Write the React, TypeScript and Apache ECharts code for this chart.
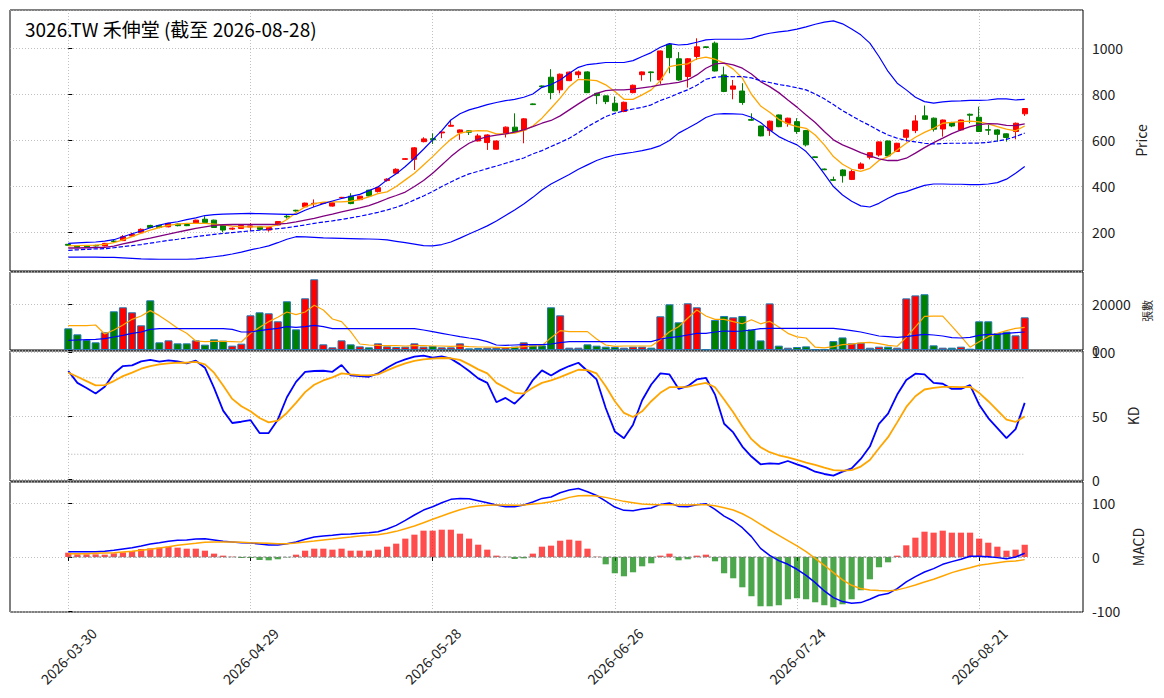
import React, { useEffect, useRef } from 'react';
import * as echarts from 'echarts';

const FONT = '"Noto Sans CJK TC", "Noto Sans", sans-serif';

// Taiwan exchange closed on these weekdays in the period
const holidays = ['2026-04-03', '2026-04-06', '2026-05-01', '2026-06-19'];

const buildTradingDays = (start: string, count: number) => {
    const out: string[] = [];
    const d = new Date(start + 'T00:00:00Z');
    while (out.length < count) {
        const wd = d.getUTCDay();
        const s = d.toISOString().slice(0, 10);
        if (wd !== 0 && wd !== 6 && !holidays.includes(s)) out.push(s);
        d.setUTCDate(d.getUTCDate() + 1);
    }
    return out;
};

const dates = buildTradingDays('2026-03-30', 106);
const dateTicks = [0, 20, 40, 60, 80, 100];

const opens = [
    148, 141, 141, 143, 141, 162, 164, 184, 198, 230,
    230, 224, 236, 234, 239, 257, 253, 230, 214, 217,
    223, 224, 210, 232, 270, 296, 311, 324, 326, 314,
    350, 357, 342, 383, 377, 425, 457, 517, 517, 594,
    607, 632, 661, 633, 641, 597, 590, 561, 630, 657,
    645, 758, 836, 874, 819, 859, 885, 897, 804, 793,
    761, 725, 807, 885, 897, 862, 1017, 954, 877, 964,
    1006, 1022, 884, 822, 814, 690, 662, 642, 710, 674,
    681, 642, 528, 475, 429, 471, 430, 477, 526, 536,
    597, 551, 613, 642, 706, 696, 649, 677, 645, 713,
    700, 646, 645, 628, 638, 715,
];
const closes = [
    144, 135, 137, 141, 152, 160, 181, 191, 213, 221,
    221, 239, 229, 229, 253, 243, 221, 210, 218, 230,
    228, 213, 221, 247, 267, 293, 327, 326, 328, 328,
    352, 325, 357, 358, 394, 431, 474, 520, 567, 606,
    602, 636, 665, 645, 635, 619, 623, 597, 657, 638,
    693, 755, 833, 807, 887, 896, 897, 807, 794, 768,
    728, 765, 839, 897, 894, 988, 959, 862, 954, 1006,
    1003, 901, 812, 836, 764, 687, 619, 683, 659, 696,
    638, 580, 525, 472, 426, 446, 464, 497, 546, 593,
    532, 587, 645, 684, 691, 648, 688, 662, 688, 709,
    638, 644, 626, 612, 674, 738,
];
const lows = [
    141, 132, 134, 138, 139, 155, 162, 182, 196, 218,
    218, 222, 226, 227, 237, 241, 219, 200, 210, 215,
    206, 211, 203, 230, 260, 290, 309, 310, 324, 312,
    348, 322, 340, 356, 373, 420, 455, 515, 471, 591,
    584, 609, 659, 602, 623, 595, 558, 559, 612, 636,
    587, 753, 831, 778, 804, 857, 870, 805, 757, 757,
    726, 722, 804, 859, 855, 845, 891, 859, 829, 949,
    1001, 899, 809, 778, 754, 684, 617, 619, 657, 659,
    628, 573, 523, 470, 423, 416, 427, 474, 517, 529,
    530, 549, 594, 631, 688, 638, 616, 657, 642, 674,
    636, 623, 594, 594, 604, 706,
];
const highs = [
    151, 143, 143, 146, 154, 168, 188, 199, 217, 233,
    232, 241, 238, 236, 255, 270, 255, 232, 221, 232,
    240, 226, 223, 249, 275, 298, 329, 343, 330, 330,
    354, 370, 359, 385, 399, 435, 478, 523, 570, 613,
    630, 639, 688, 647, 643, 628, 626, 599, 660, 717,
    696, 760, 838, 909, 890, 899, 903, 900, 806, 795,
    790, 768, 842, 899, 899, 990, 1020, 983, 957, 1043,
    1008, 1029, 920, 862, 848, 717, 664, 686, 712, 698,
    696, 645, 530, 477, 442, 474, 474, 504, 548, 595,
    599, 589, 648, 709, 751, 699, 690, 680, 690, 716,
    746, 667, 648, 630, 677, 740,
];

const ma5 = [
    141, 142, 143, 144, 148, 155, 167, 181, 196, 210,
    221, 230, 236, 239, 239, 239, 236, 232, 227, 224,
    224, 224, 224, 232, 256, 285, 311, 325, 331, 332,
    332, 335, 342, 354, 368, 376, 399, 428, 457, 493,
    529, 568, 604, 631, 639, 642, 641, 628, 628, 631,
    642, 662, 696, 739, 783, 833, 865, 862, 859, 841,
    812, 778, 778, 797, 819, 859, 920, 928, 932, 954,
    961, 952, 935, 909, 870, 800, 749, 722, 691, 671,
    659, 652, 623, 580, 529, 496, 474, 465, 478, 512,
    529, 558, 587, 613, 634, 652, 674, 678, 681, 683,
    680, 671, 659, 648, 641, 662,
];
const ma10 = [
    132, 132, 133, 134, 135, 140, 150, 158, 167, 175,
    184, 192, 201, 209, 217, 224, 230, 233, 234, 234,
    234, 234, 234, 236, 239, 245, 253, 261, 270, 279,
    289, 298, 306, 316, 330, 346, 360, 375, 399, 425,
    457, 493, 529, 561, 587, 604, 616, 622, 628, 635,
    645, 659, 674, 686, 706, 732, 758, 783, 804, 816,
    819, 819, 822, 828, 833, 841, 846, 852, 862, 884,
    913, 932, 935, 928, 913, 888, 855, 833, 807, 775,
    744, 710, 677, 638, 602, 580, 564, 546, 532, 519,
    512, 512, 522, 544, 568, 590, 609, 629, 645, 659,
    668, 672, 671, 665, 664, 671,
];
const ma20 = [
    122, 124, 126, 128, 129, 133, 138, 142, 147, 153,
    159, 165, 170, 176, 181, 186, 191, 195, 199, 203,
    206, 209, 213, 216, 220, 226, 232, 239, 245, 250,
    256, 263, 270, 278, 287, 297, 309, 323, 341, 358,
    377, 399, 419, 438, 454, 465, 477, 488, 500, 512,
    523, 541, 555, 573, 590, 609, 633, 659, 681, 703,
    717, 728, 736, 743, 754, 773, 787, 804, 819, 839,
    865, 874, 877, 876, 877, 871, 859, 851, 842, 836,
    828, 819, 801, 780, 755, 729, 706, 684, 664, 642,
    623, 609, 599, 593, 587, 584, 586, 587, 587, 588,
    588, 591, 597, 604, 616, 631,
];
const bollUpper = [
    152, 154, 156, 158, 162, 168, 181, 194, 206, 220,
    232, 240, 246, 255, 263, 273, 277, 279, 280, 281,
    282, 281, 280, 279, 278, 278, 296, 311, 325, 336,
    347, 356, 365, 381, 397, 428, 454, 486, 522, 561,
    602, 642, 688, 715, 732, 743, 755, 764, 772, 778,
    787, 801, 830, 842, 862, 891, 917, 929, 933, 938,
    938, 938, 946, 964, 981, 1004, 1020, 1014, 1017, 1026,
    1036, 1039, 1039, 1039, 1039, 1043, 1056, 1065, 1071, 1075,
    1083, 1093, 1104, 1113, 1119, 1106, 1083, 1058, 1022, 964,
    899, 848, 819, 787, 768, 761, 767, 770, 771, 773,
    773, 775, 780, 780, 775, 778,
];
const bollLower = [
    92, 92, 92, 92, 91, 91, 89, 87, 85, 84,
    83, 83, 83, 83, 85, 89, 94, 99, 106, 114,
    124, 132, 141, 155, 170, 181, 180, 178, 176, 175,
    174, 173, 172, 171, 170, 167, 161, 155, 149, 142,
    141, 147, 158, 175, 193, 210, 228, 249, 273, 297,
    323, 352, 384, 410, 431, 451, 474, 493, 512, 526,
    536, 542, 548, 555, 564, 577, 599, 631, 652, 674,
    699, 713, 716, 715, 713, 700, 677, 645, 616, 597,
    580, 551, 507, 454, 399, 362, 335, 315, 310, 326,
    348, 367, 377, 391, 404, 410, 410, 409, 409, 407,
    407, 410, 416, 431, 457, 486,
];

const volumes = [
    9490, 6860, 4380, 3360, 7740, 16940, 18690, 16500, 10800, 21750,
    3360, 4230, 2920, 2920, 4230, 2340, 4670, 4090, 1900, 2770,
    15180, 16500, 16060, 12560, 21320, 9050, 22630, 30950, 2480, 1170,
    4230, 2480, 1600, 1170, 2920, 1600, 1310, 1460, 2920, 1460,
    1750, 1170, 1170, 2920, 730, 880, 1020, 1020, 1170, 1460,
    3360, 2040, 2040, 18690, 15180, 1020, 1020, 2480, 1900, 1460,
    1310, 1020, 1460, 1460, 1020, 14750, 20000, 12120, 20440, 18690,
    300, 13140, 14890, 14310, 14890, 9000, 4200, 20400, 1900, 1000,
    1300, 1600, 300, 300, 3900, 5500, 2900, 3200, 1000, 1460,
    1460, 1020, 22600, 23900, 24400, 2040, 1020, 1020, 1460, 580,
    12560, 12560, 7300, 8030, 6420, 14300,
];
const volMa5 = [
    10660, 10660, 10660, 10950, 7000, 8760, 10950, 13430, 14890, 17230,
    15040, 12410, 9490, 7300, 3940, 3650, 3800, 3800, 3650, 3500,
    7300, 9930, 12410, 14300, 16640, 15480, 16640, 19560, 17520, 13580,
    12410, 8030, 2630, 2190, 2040, 1900, 1900, 1750, 1900, 1900,
    1750, 1750, 1600, 1750, 1460, 1310, 1310, 1170, 1020, 1170,
    1460, 1750, 1900, 5400, 8470, 8030, 8030, 8030, 4800, 2190,
    1600, 1750, 1750, 1750, 1750, 4500, 8000, 10200, 13870, 17520,
    14890, 13430, 13430, 12410, 11500, 13250, 11460, 12560, 10080, 7300,
    5760, 5240, 1220, 900, 1480, 2320, 2580, 3160, 3300, 2810,
    2000, 1630, 5510, 10090, 14680, 14790, 14790, 10480, 5990, 1220,
    3650, 5840, 7300, 8470, 9490, 9930,
];
const volMa20 = [
    4230, 4380, 4520, 4670, 4960, 5690, 6420, 7300, 7880, 9050,
    9340, 9340, 9340, 9340, 9340, 9340, 9340, 9340, 9050, 7880,
    7880, 8470, 9050, 9490, 10220, 9930, 10220, 10800, 10220, 9340,
    9340, 9340, 9340, 9340, 9340, 9340, 9340, 9340, 9340, 8760,
    8030, 7300, 6570, 5840, 5250, 4670, 3650, 2190, 2040, 2190,
    2340, 2340, 2340, 2630, 3210, 3650, 3650, 3650, 3650, 3650,
    3650, 3650, 3650, 3650, 3650, 4820, 5400, 5840, 6570, 7300,
    7300, 7880, 8320, 8170, 8320, 8760, 9340, 9490, 9490, 9490,
    9490, 9490, 9490, 9490, 9490, 9050, 8470, 7880, 7000, 6130,
    5840, 5550, 5840, 6420, 6860, 6570, 6130, 5400, 5250, 5550,
    6420, 6860, 6860, 7300, 7590, 7880,
];

const kValues = [
    85.3, 76, 72, 67.6, 73, 83.4, 89.2, 89.7, 92.9, 94,
    92.6, 93.7, 92.9, 91.3, 93.4, 87.9, 72.1, 54.2, 44.5, 45.5,
    46.8, 36.6, 36.6, 47.1, 64.7, 76.8, 84.7, 85.3, 85.5, 84.7,
    90, 81.8, 81.3, 80.8, 83.4, 87.9, 91.8, 94.5, 96.6, 97.4,
    95.8, 96.8, 95, 90.5, 85.3, 79.5, 76, 60.8, 64.2, 59.7,
    66.8, 78.2, 85.8, 81.8, 86, 89.2, 91.8, 85.3, 78.7, 56.3,
    37.9, 32.6, 43.2, 62.4, 74.7, 83.4, 82.6, 71.3, 73.4, 78.7,
    80, 66.8, 43.9, 37.1, 26, 18.2, 12.1, 12.9, 12.4, 14.7,
    12.1, 9.7, 6.3, 4.5, 3.2, 6.3, 8.9, 16.3, 26, 43.9,
    51.8, 66.8, 78.2, 83.2, 82.6, 76, 75.3, 71.3, 71.3, 74.2,
    58.9, 48.4, 40.5, 32.6, 39.7, 60.3,
];
const dValues = [
    84, 80.8, 77.4, 74, 74.2, 77.4, 81.3, 84, 87.1, 89.2,
    90.5, 91.3, 91.8, 91.8, 92.4, 90.5, 84, 74, 63.4, 57.6,
    53.7, 48.4, 45, 46.3, 52.4, 60.3, 68.7, 74.5, 77.9, 80.3,
    83.4, 82.6, 82.1, 81.8, 82.6, 85.8, 88.7, 91.3, 93.2, 94.5,
    95, 95.5, 95.3, 94, 90.5, 86.6, 83.4, 76, 72.1, 68.2,
    67.6, 72.1, 76, 77.9, 80.5, 83.4, 86.3, 86, 83.4, 73.4,
    61.6, 52.4, 49.2, 53.7, 61.6, 68.2, 72.6, 72.6, 72.9, 74.7,
    76, 72.6, 62.9, 52.9, 41.8, 31.8, 25.5, 21.6, 19.2, 17.6,
    15.5, 13.4, 11.6, 9.5, 7.6, 7.1, 7.6, 10.3, 15.5, 24.7,
    33.4, 45, 57.1, 65.5, 70.8, 72.1, 72.9, 72.9, 72.6, 72.9,
    68.2, 61.6, 54.5, 47.1, 45.3, 49.7,
];
const kdLevels = [20, 80];

const dif = [
    9.9, 9.9, 9.9, 9.9, 10.5, 12.3, 14.8, 17.3, 20.4, 24.1,
    26.5, 29, 30.9, 31.5, 33.3, 34, 31.5, 29, 27.8, 26.5,
    25.9, 24.1, 22.2, 22.2, 24.7, 27.8, 32.7, 37, 38.9, 40.1,
    42, 42.6, 43.8, 45.1, 46.9, 51.9, 58.6, 67.9, 77.8, 87,
    93.2, 100.6, 106.8, 108.6, 108, 104.3, 100.6, 96.3, 93.2, 93.2,
    96.3, 101.9, 108.6, 111.1, 119.1, 124, 127, 121, 114, 103.7,
    92.6, 86.4, 85.8, 88.9, 90.7, 97.5, 100, 93.8, 93.2, 96.9,
    98.8, 88.3, 75.9, 66.7, 54.3, 37.7, 16, 3.1, -6.8, -13.6,
    -22.8, -34, -47.5, -63, -75.3, -82.7, -85.8, -84.6, -78.4, -71,
    -67.9, -58.6, -46.3, -36.4, -27.8, -21.6, -13.6, -8.6, -4.3, 1.2,
    1.2, 0.6, -1.2, -3.1, 0, 6.8,
];
const dea = [
    6.2, 6.2, 6.2, 6.8, 7.4, 8, 9.3, 10.5, 12.3, 14.2,
    16.7, 19.1, 21.6, 23.5, 25.3, 27.2, 27.8, 27.8, 27.8, 27.2,
    26.5, 25.9, 25.3, 24.7, 24.7, 25.9, 27.8, 29.6, 31.5, 33.3,
    35.2, 37, 38.9, 40.1, 41.4, 43.8, 47.5, 52.5, 57.4, 63.6,
    69.8, 75.9, 82.1, 87.7, 92, 94.4, 95.7, 96.3, 96.3, 95.7,
    96.3, 98.1, 99.5, 102.2, 105.5, 110.5, 113.6, 114.2, 113, 110.5,
    106.8, 103.1, 100.6, 98.1, 97.5, 96.9, 96.9, 96.3, 96.3, 96.9,
    96.9, 95, 91.4, 87, 80.2, 71, 60.5, 50, 40.1, 30.2,
    20.4, 9.9, -2.5, -15.4, -29, -42.6, -52.5, -58.6, -61, -62.3,
    -63, -61, -56.8, -51.9, -46.3, -41.4, -35.2, -29, -24.1, -19.8,
    -15.4, -13, -10.5, -8.6, -7.4, -4.9,
];
const macdHist = [
    8, 4.9, 4.9, 4.9, 4.3, 6.8, 8.6, 11.1, 14.8, 16,
    17.3, 19.1, 17.3, 15.4, 15.4, 11.7, 6.2, 2.5, 0.6, -1.9,
    -1.9, -5.6, -6.2, -4.3, -0.6, 4.3, 11.7, 15.4, 15.4, 13.6,
    15.4, 11.7, 11.7, 11.7, 13.6, 19.1, 24.7, 34, 41.4, 48.8,
    48.8, 50.6, 50.6, 43.2, 34, 22.8, 13.6, 2.5, 0.3, -3.7,
    -2.5, 6.2, 19.1, 21, 30.2, 32.1, 30.2, 15.4, 0.5, -13.6,
    -30.2, -35.8, -28.4, -17.3, -11.7, 2.5, 6.2, -6.2, -4.3, 2.5,
    4.3, -8, -30.2, -39.5, -56.2, -72.8, -91.4, -91.4, -89.5, -78.4,
    -76.5, -78.4, -84, -89.5, -93.2, -87.7, -78.4, -61.7, -41.4, -19.1,
    -9.9, 2.5, 21.6, 35.8, 46.9, 45.1, 48.8, 45.1, 45.1, 45.1,
    34, 26.5, 19.1, 11.7, 13.6, 22.8,
];

const UP = '#ff0000';
const DOWN = '#008000';
const gridLine = { color: '#b0b0b0', type: [1, 2], width: 0.8 };
const lastIdx = dates.length - 1;

const pairs = (arr: number[]) => arr.map((v, i) => [i, v]);

const lineSeries = (name: string, data: number[], axis: number, color: string, width: number, type: any = 'solid') => ({
    name,
    type: 'line',
    xAxisIndex: axis,
    yAxisIndex: axis,
    data: pairs(data),
    symbol: 'none',
    showSymbol: false,
    z: 5,
    lineStyle: { color, width, type },
});

const App: React.FC = () => {
    const chartRef = useRef<HTMLDivElement>(null);

    useEffect(() => {
        document.body.style.margin = '0';
        if (!chartRef.current) return;
        const chart = echarts.init(chartRef.current, null, { renderer: 'svg' });

        const grids = [
            { top: 10, height: 261 },
            { top: 272, height: 78 },
            { top: 351, height: 130 },
            { top: 482, height: 130 },
        ];

        const xAxes = grids.map((_, g) => ({
            type: 'value',
            gridIndex: g,
            min: -6.4,
            max: 111.4,
            axisLine: { show: false },
            axisTick: {
                show: g === 3,
                customValues: dateTicks,
                length: 4,
                lineStyle: { color: '#000', width: 1 },
            },
            axisLabel: {
                show: g === 3,
                customValues: dateTicks,
                rotate: 45,
                align: 'center',
                verticalAlign: 'middle',
                margin: 44,
                fontSize: 14,
                color: '#222',
                fontFamily: FONT,
                formatter: (v: number) => dates[Math.round(v)] ?? '',
            },
            splitLine: { show: true, lineStyle: gridLine },
        }));

        const yBase = (g: number) => ({
            type: 'value',
            gridIndex: g,
            position: 'right',
            axisLine: { show: false },
            axisTick: { show: true, length: 4, lineStyle: { color: '#000' } },
            axisLabel: {
                margin: 9,
                fontSize: 14,
                color: '#222',
                fontFamily: FONT,
                showMinLabel: false,
                showMaxLabel: false,
                formatter: (v: number) => String(v),
            },
            splitLine: { show: true, lineStyle: gridLine },
            nameLocation: 'middle',
            nameRotate: 90,
            nameTextStyle: { fontSize: 14, color: '#222', fontFamily: FONT },
        });

        const yAxes = [
            { ...yBase(0), min: 32, max: 1166, splitNumber: 5, name: 'Price', nameGap: 47 },
            {
                ...yBase(1), min: 0, max: 34140, interval: 20000, name: '張數', nameGap: 56,
                nameTextStyle: { fontSize: 11, color: '#222', fontFamily: FONT },
                axisLabel: { ...yBase(1).axisLabel, showMinLabel: true },
            },
            { ...yBase(2), min: -1, max: 101, splitNumber: 2, name: 'KD', nameGap: 40 },
            { ...yBase(3), min: -102, max: 139, splitNumber: 2, name: 'MACD', nameGap: 45 },
        ];

        const option = {
            animation: false,
            backgroundColor: '#fff',
            title: {
                text: `3026.TW 禾伸堂 (截至 ${dates[lastIdx]})`,
                left: 25,
                top: 19,
                padding: 0,
                textStyle: { fontSize: 19, fontWeight: 'normal', color: '#000', fontFamily: FONT },
            },
            grid: grids.map((g) => ({
                left: 10,
                right: 81,
                top: g.top,
                height: g.height,
                show: true,
                borderColor: '#000',
                borderWidth: 1,
                backgroundColor: 'transparent',
            })),
            xAxis: xAxes,
            yAxis: yAxes,
            series: [
                {
                    name: 'K線',
                    type: 'candlestick',
                    xAxisIndex: 0,
                    yAxisIndex: 0,
                    barWidth: 5.5,
                    z: 3,
                    data: opens.map((o, i) => [i, o, closes[i], lows[i], highs[i]]),
                    itemStyle: {
                        color: UP,
                        color0: DOWN,
                        borderColor: UP,
                        borderColor0: DOWN,
                        borderWidth: 1,
                    },
                },
                lineSeries('MA5', ma5, 0, '#ffa500', 1.3),
                lineSeries('MA10', ma10, 0, '#800080', 1.3),
                lineSeries('MA20', ma20, 0, '#0000ff', 1.2, [4.4, 1.9]),
                lineSeries('BB上軌', bollUpper, 0, '#0000ff', 1.2),
                lineSeries('BB下軌', bollLower, 0, '#0000ff', 1.2),
                {
                    name: '成交量',
                    type: 'bar',
                    xAxisIndex: 1,
                    yAxisIndex: 1,
                    barWidth: 8,
                    z: 2,
                    data: volumes.map((v, i) => ({
                        value: [i, v],
                        itemStyle: {
                            color: closes[i] >= opens[i] ? UP : DOWN,
                            borderColor: '#1f77b4',
                            borderWidth: 1,
                        },
                    })),
                },
                lineSeries('量MA5', volMa5, 1, '#ffa500', 1.2),
                lineSeries('量MA20', volMa20, 1, '#0000ff', 1.2),
                ...kdLevels.map((lv) => ({
                    type: 'line',
                    xAxisIndex: 2,
                    yAxisIndex: 2,
                    data: [[0, lv], [lastIdx, lv]],
                    symbol: 'none',
                    z: 2,
                    lineStyle: { color: '#a0a0a0', width: 0.9, type: [1, 2] },
                })),
                lineSeries('K', kValues, 2, '#0000ff', 1.8),
                lineSeries('D', dValues, 2, '#ffa500', 1.8),
                {
                    name: 'OSC',
                    type: 'bar',
                    xAxisIndex: 3,
                    yAxisIndex: 3,
                    barWidth: 6.2,
                    z: 2,
                    data: macdHist.map((v, i) => ({
                        value: [i, v],
                        itemStyle: { color: v >= 0 ? 'rgba(255,0,0,0.7)' : 'rgba(0,128,0,0.7)' },
                    })),
                },
                {
                    type: 'line',
                    xAxisIndex: 3,
                    yAxisIndex: 3,
                    data: [[0, 0], [lastIdx, 0]],
                    symbol: 'none',
                    z: 3,
                    lineStyle: { color: '#808080', width: 1.2, type: [3, 2] },
                },
                lineSeries('DIF', dif, 3, '#0000ff', 1.5),
                lineSeries('DEA', dea, 3, '#ffa500', 1.5),
            ],
        };

        chart.setOption(option as any);

        return () => {
            chart.dispose();
        };
    }, []);

    return <div ref={chartRef} style={{ width: '1164px', height: '698px' }} />;
};

export default App;
